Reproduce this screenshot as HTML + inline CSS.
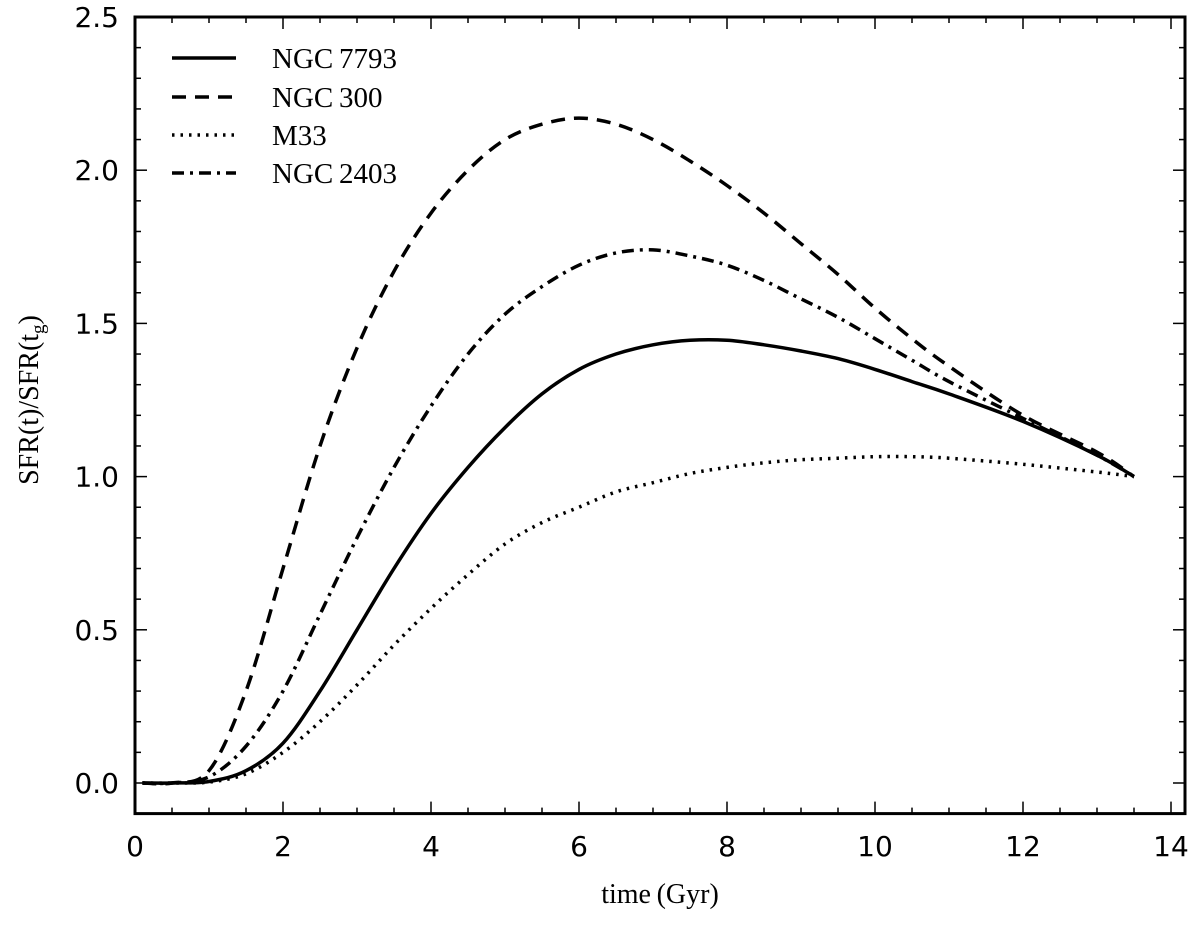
<!DOCTYPE html>
<html><head><meta charset="utf-8"><style>body{margin:0;background:#fff}</style></head>
<body>
<svg id="chart" width="1200" height="921" xmlns="http://www.w3.org/2000/svg"></svg>
<script>
const xs=[0.1,0.5,1,1.5,2,2.5,3,3.5,4,4.5,5,5.5,6,6.5,7,7.5,8,8.5,9,9.5,10,10.5,11,12,13,13.5];
const ngc7793=[0,0,0.005,0.04,0.13,0.3,0.5,0.7,0.88,1.03,1.16,1.27,1.35,1.4,1.43,1.445,1.445,1.43,1.41,1.385,1.35,1.31,1.27,1.18,1.07,1.0];
const ngc300=[0,0,0.04,0.3,0.7,1.1,1.42,1.67,1.86,2.0,2.1,2.15,2.17,2.15,2.1,2.03,1.95,1.86,1.76,1.66,1.55,1.45,1.36,1.2,1.08,1.0];
const m33=[0,0,0.003,0.03,0.1,0.2,0.32,0.45,0.57,0.68,0.78,0.85,0.9,0.95,0.98,1.01,1.03,1.045,1.055,1.06,1.065,1.065,1.06,1.04,1.015,1.0];
const ngc2403=[0,0,0.02,0.12,0.3,0.55,0.8,1.03,1.23,1.4,1.53,1.62,1.69,1.73,1.74,1.72,1.69,1.64,1.58,1.52,1.45,1.38,1.31,1.19,1.07,1.0];
const xTicks=[0,2,4,6,8,10,12,14];
const yTicks=[0.0,0.5,1.0,1.5,2.0,2.5];
const names=["NGC\u20097793","NGC\u2009300","M33","NGC\u20092403"];

const L=135,R=1185,T=17,B=813.6;
const X=v=>L+v*74, Y=v=>783-v*306.4;
const svg=document.getElementById('chart');
const NS='http://www.w3.org/2000/svg';
function mk(t,a,p){const e=document.createElementNS(NS,t);for(const k in a)e.setAttribute(k,a[k]);(p||svg).appendChild(e);return e;}
function smooth(d){
 const P=xs.map((x,i)=>[X(x),Y(d[i])]);
 let s='M'+P[0][0].toFixed(1)+','+P[0][1].toFixed(1);
 for(let i=0;i<P.length-1;i++){
  const p0=P[Math.max(i-1,0)],p1=P[i],p2=P[i+1],p3=P[Math.min(i+2,P.length-1)];
  const c1=[p1[0]+(p2[0]-p0[0])/6,p1[1]+(p2[1]-p0[1])/6];
  const c2=[p2[0]-(p3[0]-p1[0])/6,p2[1]-(p3[1]-p1[1])/6];
  s+='C'+c1.map(v=>v.toFixed(1))+' '+c2.map(v=>v.toFixed(1))+' '+p2.map(v=>v.toFixed(1));
 }
 return s;
}
const series=[[ngc7793,'none','ngc7793'],[ngc300,'14 9','ngc300'],[m33,'2.5 6','m33'],[ngc2403,'12 6 3 6','ngc2403']];
series.forEach(([d,dash,n])=>{
 const p=mk('path',{d:smooth(d),fill:'none',stroke:'#000','stroke-width':3.5,'stroke-dasharray':dash,'stroke-linejoin':'round'});
 
 
});
for(let v=0;v<=14.01;v+=0.5){const maj=Math.abs(v-Math.round(v/2)*2)<1e-6;const len=maj?12:6;
 mk('line',{x1:X(v),x2:X(v),y1:B,y2:B-len,stroke:'#000','stroke-width':1.5});
 mk('line',{x1:X(v),x2:X(v),y1:T,y2:T+len,stroke:'#000','stroke-width':1.5});}
for(let i=-1;i<=25;i++){const v=i/10;const maj=i%5===0;const len=maj?12:6;
 mk('line',{x1:L,x2:L+len,y1:Y(v),y2:Y(v),stroke:'#000','stroke-width':1.5});
 mk('line',{x1:R,x2:R-len,y1:Y(v),y2:Y(v),stroke:'#000','stroke-width':1.5});}
xTicks.forEach(v=>{const t=mk('text',{x:X(v),y:856,'text-anchor':'middle','font-family':'DejaVu Sans, sans-serif','font-size':28});t.textContent=v;
 });
yTicks.forEach(v=>{const t=mk('text',{x:119,y:Y(v)+10,'text-anchor':'end','font-family':'DejaVu Sans, sans-serif','font-size':28});t.textContent=v.toFixed(1);
 });
const fr=mk('rect',{x:L,y:T,width:R-L,height:B-T,fill:'none',stroke:'#000','stroke-width':3});

const ly=[58,97,135,173];
series.forEach(([d,dash,n],i)=>{
 const g=mk('g',{});
 
 mk('line',{x1:172,x2:236,y1:ly[i],y2:ly[i],stroke:'#000','stroke-width':3.5,'stroke-dasharray':dash},g);
 const t=mk('text',{x:272,y:ly[i]+10,'font-family':'Liberation Serif, serif','font-size':29},g);t.textContent=names[i];
});
const xl=mk('text',{x:660,y:903,'text-anchor':'middle','font-family':'Liberation Serif, serif','font-size':28});
xl.textContent='time\u2009(Gyr)';
const yl=mk('text',{x:0,y:0,'text-anchor':'middle','font-family':'Liberation Serif, serif','font-size':28,transform:'translate(38,400) rotate(-90)'});
yl.innerHTML='SFR(t)/SFR(t<tspan font-size="19" dy="6">g</tspan><tspan dy="-6">)</tspan>';

</script>
</body></html>
